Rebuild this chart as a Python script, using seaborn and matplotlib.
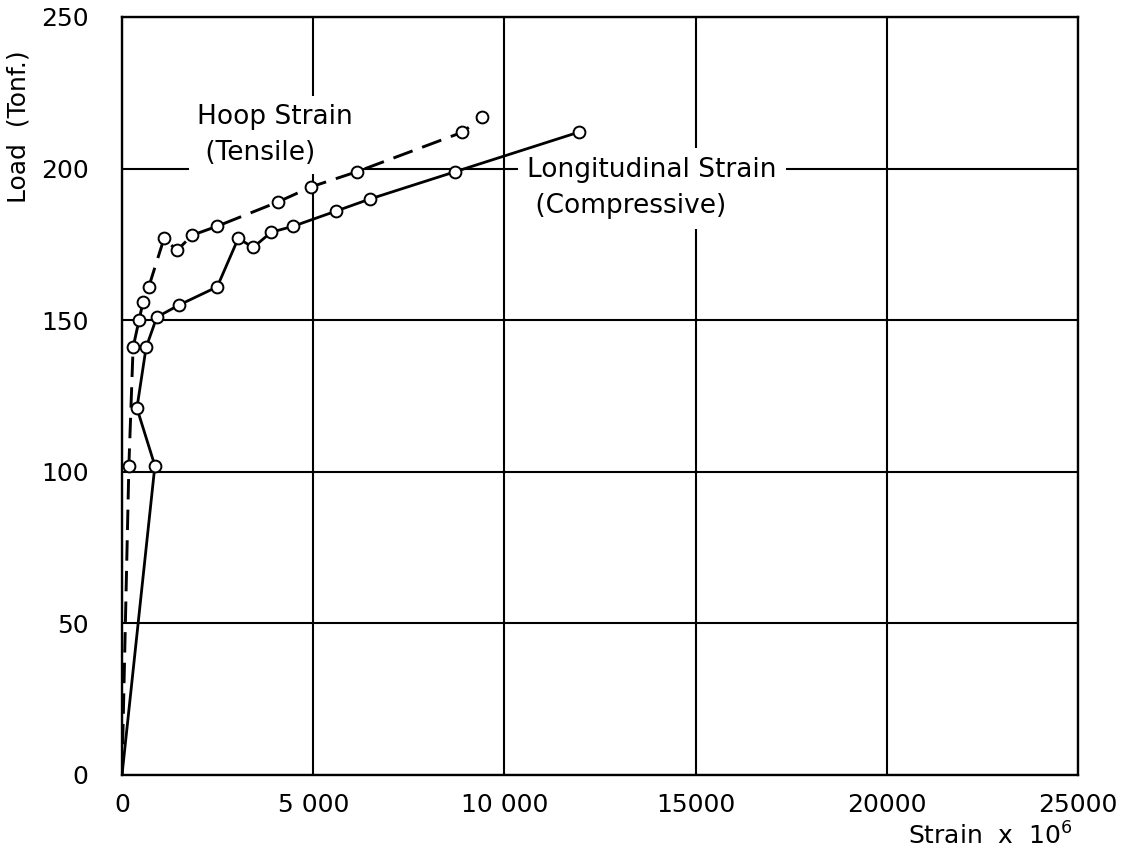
import numpy as np
import pandas as pd
import matplotlib
matplotlib.use("Agg")
import matplotlib.pyplot as plt
import seaborn as sns

# ---- data ----
hoop_strain = [0, 180, 290, 445, 550, 700, 1100, 1440, 1830, 2490, 4080, 4950, 6150, 8900, 9420]
hoop_load = [0, 102, 141, 150, 156, 161, 177, 173, 178, 181, 189, 194, 199, 212, 217]

long_strain = [0, 860, 390, 630, 910, 1490, 2490, 3040, 3430, 3900, 4480, 5600, 6490, 8720, 11940]
long_load = [0, 102, 121, 141, 151, 155, 161, 177, 174, 179, 181, 186, 190, 199, 212]

x_ticks = [0, 5000, 10000, 15000, 20000, 25000]
x_tick_labels = ["0", "5 000", "10 000", "15000", "20000", "25000"]
y_ticks = [0, 50, 100, 150, 200, 250]
y_tick_labels = ["0", "50", "100", "150", "200", "250"]

hoop_label = "Hoop Strain\n (Tensile)"
long_label = "Longitudinal Strain\n (Compressive)"
x_label = "Strain  x  10$^{6}$"
y_label = "Load  (Tonf.)"

# ---- styling ----
sns.set_style("white")
plt.rcParams["font.family"] = ["DejaVu Sans"]
plt.rcParams["text.color"] = "black"
plt.rcParams["axes.labelcolor"] = "black"

fig = plt.figure(figsize=(11.48, 8.59), dpi=100)
ax = fig.add_axes([122 / 1148, 1 - 775 / 859, (1078 - 122) / 1148, (775 - 17) / 859])

hoop_df = pd.DataFrame({"strain": hoop_strain, "load": hoop_load})
long_df = pd.DataFrame({"strain": long_strain, "load": long_load})

mk = dict(marker="o", markersize=8.5, markerfacecolor="white",
          markeredgecolor="black", markeredgewidth=1.4)

sns.lineplot(data=hoop_df, x="strain", y="load", sort=False, estimator=None,
             ax=ax, color="black", linewidth=2.1, linestyle=(0, (7, 3.5)),
             zorder=4, **mk)
sns.lineplot(data=long_df, x="strain", y="load", sort=False, estimator=None,
             ax=ax, color="black", linewidth=2.0, zorder=4, **mk)

# the curves start at the origin without a circle marker
for line in ax.get_lines():
    line.set_markevery(list(range(1, len(line.get_xdata()))))

ax.set_xlim(0, 25000)
ax.set_ylim(0, 250)
ax.set_xticks(x_ticks)
ax.set_xticklabels(x_tick_labels)
ax.set_yticks(y_ticks)
ax.set_yticklabels(y_tick_labels)
ax.tick_params(axis="both", length=0, labelsize=18, colors="black")
ax.tick_params(axis="x", pad=13)
ax.tick_params(axis="y", pad=24)

ax.grid(True, color="black", linewidth=1.5, zorder=0.5)
ax.set_axisbelow(True)
for s in ax.spines.values():
    s.set_visible(True)
    s.set_color("black")
    s.set_linewidth(1.7)

ax.set_xlabel(x_label, fontsize=18, ha="right")
ax.xaxis.set_label_coords(0.994, -0.063)
ax.set_ylabel(y_label, fontsize=18)
ax.yaxis.set_label_coords(-0.096, 0.855)

ax.text(1960, 211, hoop_label, fontsize=19, ha="left", va="center",
        linespacing=1.5, zorder=2,
        bbox=dict(boxstyle="square,pad=0.3", facecolor="white", edgecolor="none"))
ax.text(10600, 193.5, long_label, fontsize=19, ha="left", va="center",
        linespacing=1.5, zorder=2,
        bbox=dict(boxstyle="square,pad=0.35", facecolor="white", edgecolor="none"))

fig.savefig("out.png", dpi=100, facecolor="white")
